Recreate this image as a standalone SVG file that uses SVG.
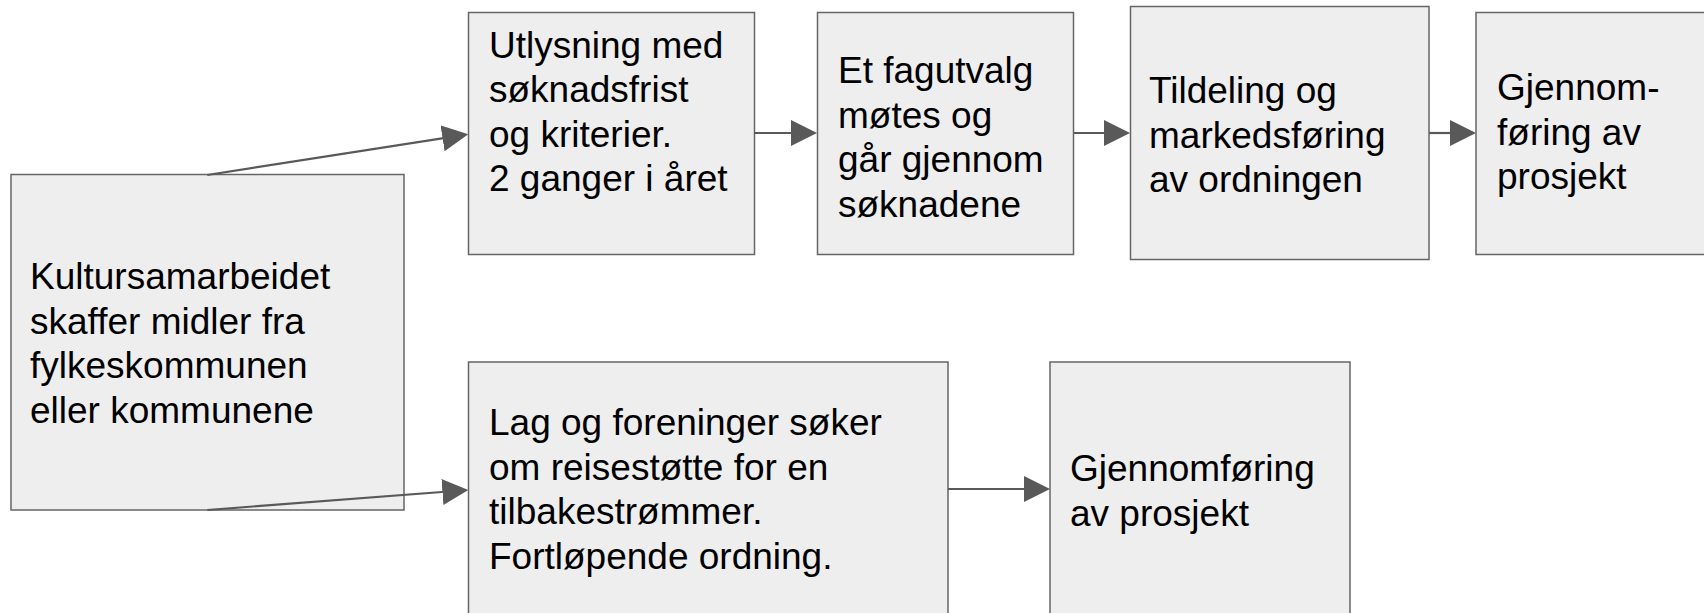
<svg xmlns="http://www.w3.org/2000/svg" width="1704" height="613" viewBox="0 0 1704 613">
<style>
.box{fill:#eeeeee;stroke:#666666;stroke-width:1.5}
.t{font-family:"Liberation Sans",Arial,sans-serif;font-size:37px;fill:#000}
.c{stroke:#595959;stroke-width:2.2;fill:none}
</style>
<defs>
<marker id="ah" markerUnits="userSpaceOnUse" markerWidth="27" markerHeight="27" refX="6" refY="13" orient="auto" viewBox="0 0 27 27">
<path d="M0,0 L26,13 L0,26 z" fill="#595959"/>
</marker>
</defs>
<rect width="1704" height="613" fill="#fff"/>
<g id="n-kultur">
<rect class="box" x="11" y="174.5" width="393" height="335.5"/>
<text class="t" x="30" y="289"><tspan x="30">Kultursamarbeidet</tspan><tspan x="30" dy="44.7">skaffer midler fra</tspan><tspan x="30" dy="44.7">fylkeskommunen</tspan><tspan x="30" dy="44.7">eller kommunene</tspan></text>
</g>
<g id="n-utlysning">
<rect class="box" x="468.5" y="12.5" width="286" height="242"/>
<text class="t" x="489" y="57.5"><tspan x="489">Utlysning med</tspan><tspan x="489" dy="44.5">søknadsfrist</tspan><tspan x="489" dy="44.5">og kriterier.</tspan><tspan x="489" dy="44.5">2 ganger i året</tspan></text>
</g>
<g id="n-fagutvalg">
<rect class="box" x="817.5" y="12.5" width="256" height="242"/>
<text class="t" x="838" y="83"><tspan x="838">Et fagutvalg</tspan><tspan x="838" dy="44.5">møtes og</tspan><tspan x="838" dy="44.5">går gjennom</tspan><tspan x="838" dy="44.5">søknadene</tspan></text>
</g>
<g id="n-tildeling">
<rect class="box" x="1130.5" y="6.5" width="298.5" height="253"/>
<text class="t" x="1149" y="103"><tspan x="1149">Tildeling og</tspan><tspan x="1149" dy="44.5">markedsføring</tspan><tspan x="1149" dy="44.5">av ordningen</tspan></text>
</g>
<g id="n-gjennom1">
<rect class="box" x="1476" y="12.5" width="260" height="242"/>
<text class="t" x="1497" y="100"><tspan x="1497">Gjennom-</tspan><tspan x="1497" dy="44.5">føring av</tspan><tspan x="1497" dy="44.5">prosjekt</tspan></text>
</g>
<g id="n-lag">
<rect class="box" x="468.5" y="362" width="479.5" height="270"/>
<text class="t" x="489" y="435"><tspan x="489">Lag og foreninger søker</tspan><tspan x="489" dy="44.5">om reisestøtte for en</tspan><tspan x="489" dy="44.5">tilbakestrømmer.</tspan><tspan x="489" dy="44.5">Fortløpende ordning.</tspan></text>
</g>
<g id="n-gjennom2">
<rect class="box" x="1050" y="362" width="300" height="270"/>
<text class="t" x="1070" y="481"><tspan x="1070">Gjennomføring</tspan><tspan x="1070" dy="44.5">av prosjekt</tspan></text>
</g>
<g id="connectors">
<path class="c" d="M207.3,175 L448.5,137.4" marker-end="url(#ah)"/>
<path class="c" d="M207.3,510 L448.4,491.5" marker-end="url(#ah)"/>
<path class="c" d="M754,133 L797,133" marker-end="url(#ah)"/>
<path class="c" d="M1074,133 L1110,133" marker-end="url(#ah)"/>
<path class="c" d="M1429,133 L1456,133" marker-end="url(#ah)"/>
<path class="c" d="M948,489 L1030,489" marker-end="url(#ah)"/>
</g>
</svg>
